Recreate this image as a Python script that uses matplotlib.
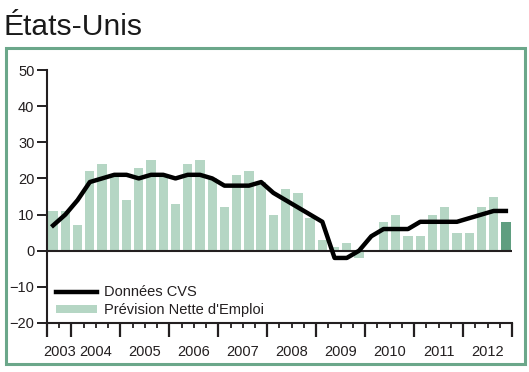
import numpy as np
import matplotlib.pyplot as plt
from matplotlib.patches import Rectangle

plt.rcParams['font.family'] = ['Liberation Sans', 'DejaVu Sans']

# years shown on the x axis and how many quarters each one covers
years = ['2003', '2004', '2005', '2006', '2007', '2008', '2009', '2010', '2011', '2012']
quarters = [2, 4, 4, 4, 4, 4, 4, 4, 4, 4]

# Prévision Nette d'Emploi (bars), one value per quarter
net_forecast = [11, 11, 7, 22, 24, 21, 14, 23, 25, 21,
                13, 24, 25, 20, 12, 21, 22, 19, 10, 17,
                16, 9, 3, 1, 2, -2, 0, 8, 10, 4,
                4, 10, 12, 5, 5, 12, 15, 8]

# Données CVS (line)
seasonal = [7, 10, 14, 19, 20, 21, 21, 20, 21, 21,
            20, 21, 21, 20, 18, 18, 18, 19, 16, 14,
            12, 10, 8, -2, -2, 0, 4, 6, 6, 6,
            8, 8, 8, 8, 9, 10, 11, 11]

light = '#b5d6c4'
dark = '#5f9e80'
frame = '#6ba78a'
ink = '#231f20'

fig = plt.figure(figsize=(5.29, 3.72), dpi=100)
ax = fig.add_axes([47 / 529, 1 - 323 / 372, 465 / 529, 253 / 372])

x = np.arange(len(net_forecast))
colors = [light] * (len(x) - 1) + [dark]
bars = ax.bar(x, net_forecast, width=0.76, color=colors, label="Prévision Nette d'Emploi", zorder=2)
ax.axhline(0, color=ink, lw=1.5, zorder=3)
line, = ax.plot(x, seasonal, color='black', lw=3.2, label='Données CVS', zorder=4)

ax.set_xlim(-0.5, len(x) - 0.5)
ax.set_ylim(-20, 50)
ax.set_yticks(np.arange(-20, 51, 10))

bounds = np.concatenate([[0], np.cumsum(quarters)]) - 0.5
ax.set_xticks(bounds)
ax.set_xticklabels([])
ax.set_xticks(np.arange(-0.5, len(x), 1.0), minor=True)

for s in ['top', 'right']:
    ax.spines[s].set_visible(False)
for s in ['left', 'bottom']:
    ax.spines[s].set_linewidth(1.5)
    ax.spines[s].set_color(ink)

ax.tick_params(axis='y', direction='out', length=7, width=1.4, pad=2,
               labelsize=10.5, colors=ink)
ax.tick_params(axis='x', which='major', direction='out', length=10, width=1.6, colors=ink)
ax.tick_params(axis='x', which='minor', direction='out', length=3.5, width=1.3, colors=ink)

centers = (bounds[:-1] + bounds[1:]) / 2
for c, yr in zip(centers, years):
    ax.annotate(yr, xy=(c, 0), xycoords=('data', 'axes fraction'),
                xytext=(0, -21), textcoords='offset points',
                ha='center', va='center', fontsize=10.5, color=ink)

leg = ax.legend([line, bars], ['Données CVS', "Prévision Nette d'Emploi"],
                loc='lower left', bbox_to_anchor=(0.0, -0.01), frameon=False,
                fontsize=10.5, handlelength=2.8, handleheight=0.45,
                handletextpad=0.5, labelspacing=0.25, borderaxespad=0.2)
for t in leg.get_texts():
    t.set_color(ink)

fig.text(3 / 529, 1 - 35 / 372, 'États-Unis', fontsize=21.6, color='#1a1a1a',
         ha='left', va='baseline')

fig.patches.append(Rectangle((5.5 / 529, 1 - 364 / 372), 519 / 529, 316 / 372,
                             transform=fig.transFigure, fill=False,
                             edgecolor=frame, lw=2.2))

fig.savefig('out.png', dpi=100)
